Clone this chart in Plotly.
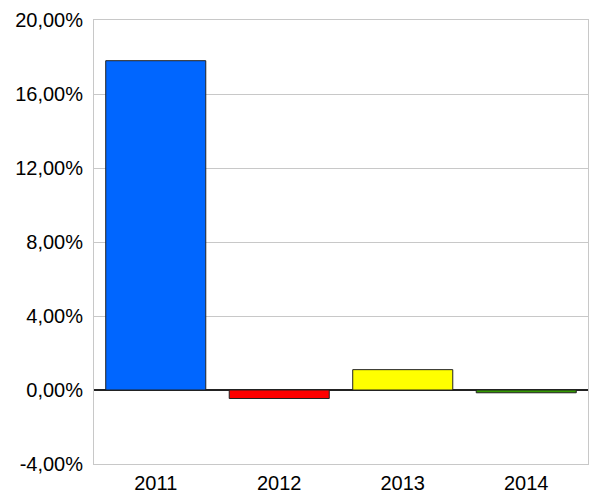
import plotly.graph_objects as go

years = ["2011", "2012", "2013", "2014"]
values = [0.1780, -0.0046, 0.0110, -0.0015]
colors = ["#0066ff", "#ff0000", "#ffff00", "#339900"]
tick_vals = [-0.04, 0.0, 0.04, 0.08, 0.12, 0.16, 0.20]
tick_text = ["-4,00%", "0,00%", "4,00%", "8,00%", "12,00%", "16,00%", "20,00%"]

fig = go.Figure(go.Bar(
    x=years, y=values,
    marker=dict(color=colors, line=dict(color="#222222", width=1)),
))

fig.update_layout(
    width=594, height=494,
    margin=dict(l=94, r=6, t=20, b=30, pad=0),
    paper_bgcolor="white", plot_bgcolor="white",
    bargap=0.19,
    showlegend=False,
    font=dict(family="Liberation Sans, Arial, sans-serif", size=20, color="#000000"),
)
fig.update_xaxes(
    automargin=False,
    showline=True, mirror=True, linecolor="#c8c8c8", linewidth=1,
    showgrid=False, ticks="outside", ticklen=1, tickcolor="rgba(0,0,0,0)",
    tickfont=dict(size=20),
)
fig.update_yaxes(
    automargin=False,
    range=[-0.04, 0.20], tickvals=tick_vals, ticktext=tick_text,
    showgrid=True, gridcolor="#c8c8c8", gridwidth=1,
    showline=True, mirror=True, linecolor="#c8c8c8", linewidth=1,
    zeroline=True, zerolinecolor="#222222", zerolinewidth=1.5,
    ticks="outside", ticklen=6, tickcolor="rgba(0,0,0,0)",
    tickfont=dict(size=20),
)

fig.write_html("out.html", config={"displayModeBar": False},
               post_script="document.body.style.margin='0';")
